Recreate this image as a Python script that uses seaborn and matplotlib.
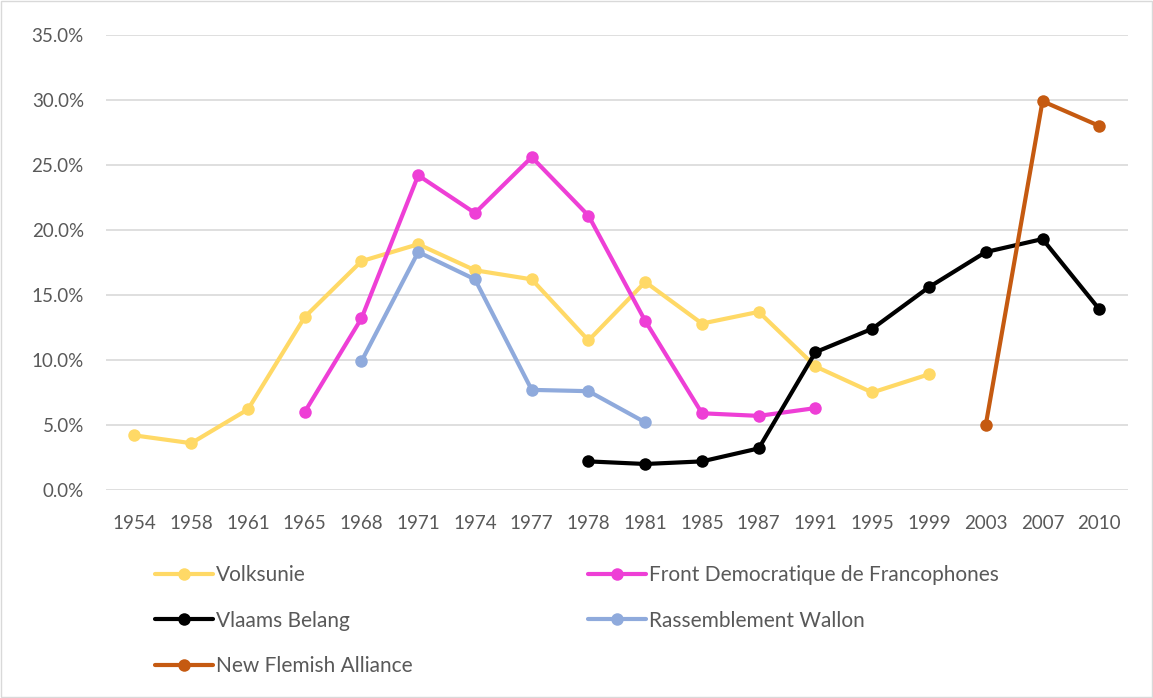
import pandas as pd
import matplotlib.pyplot as plt
import seaborn as sns
from matplotlib.patches import Rectangle
from matplotlib.ticker import FuncFormatter

# --- data ---
years = ['1954', '1958', '1961', '1965', '1968', '1971', '1974', '1977', '1978',
         '1981', '1985', '1987', '1991', '1995', '1999', '2003', '2007', '2010']

volksunie = [4.2, 3.6, 6.2, 13.3, 17.6, 18.9, 16.9, 16.2, 11.5,
             16.0, 12.8, 13.7, 9.5, 7.5, 8.9, None, None, None]
fdf = [None, None, None, 6.0, 13.2, 24.2, 21.3, 25.6, 21.1,
       13.0, 5.9, 5.7, 6.3, None, None, None, None, None]
vlaams_belang = [None, None, None, None, None, None, None, None, 2.2,
                 2.0, 2.2, 3.2, 10.6, 12.4, 15.6, 18.3, 19.3, 13.9]
rass_wallon = [None, None, None, None, 9.9, 18.3, 16.2, 7.7, 7.6,
               5.2, None, None, None, None, None, None, None, None]
nva = [None, None, None, None, None, None, None, None, None,
       None, None, None, None, None, None, 5.0, 29.9, 28.0]

series = {
    'Volksunie': volksunie,
    'Front Democratique de Francophones': fdf,
    'Vlaams Belang': vlaams_belang,
    'Rassemblement Wallon': rass_wallon,
    'New Flemish Alliance': nva,
}
colors = {
    'Volksunie': '#FFD966',
    'Front Democratique de Francophones': '#EE3FD6',
    'Vlaams Belang': '#000000',
    'Rassemblement Wallon': '#8FAADC',
    'New Flemish Alliance': '#C55A11',
}

sns.set_style('white')
plt.rcParams['font.family'] = ['Lato', 'DejaVu Sans']

fig = plt.figure(figsize=(11.53, 6.98), dpi=100)
ax = fig.add_axes([0.092, 0.298, 0.886, 0.652])

handles = {}
for name, vals in series.items():
    df = pd.DataFrame({'pos': range(len(years)), 'share': vals}).dropna()
    sns.lineplot(data=df, x='pos', y='share', ax=ax, color=colors[name],
                 linewidth=3, marker='o', markersize=9, markeredgewidth=0)
    handles[name] = ax.lines[-1]

ax.set_xlim(-0.5, len(years) - 0.5)
ax.set_ylim(0, 35)
ax.set_yticks(range(0, 36, 5))
ax.yaxis.set_major_formatter(FuncFormatter(lambda v, p: f'{v:.1f}%'))
ax.set_xticks(range(len(years)))
ax.set_xticklabels(years)
ax.set_xlabel('')
ax.set_ylabel('')
ax.tick_params(axis='both', length=0, labelsize=13.5, labelcolor='#595959')
ax.tick_params(axis='x', pad=18)
ax.tick_params(axis='y', pad=16)
ax.grid(axis='y', color='#D9D9D9', linewidth=1.2)
ax.set_axisbelow(True)
for s in ax.spines.values():
    s.set_visible(False)

# legend order in columns: left column first, then right
order = ['Volksunie', 'Vlaams Belang', 'New Flemish Alliance',
         'Front Democratique de Francophones', 'Rassemblement Wallon']
leg = fig.legend([handles[n] for n in order], order, ncol=2, frameon=False,
                 loc='upper left', bbox_to_anchor=(0.127, 0.202),
                 fontsize=15, labelcolor='#595959', handlelength=2.8,
                 handletextpad=0.15, columnspacing=8.4, labelspacing=1.22,
                 borderaxespad=0)

fig.add_artist(Rectangle((0.001, 0.001), 0.998, 0.997, transform=fig.transFigure,
                         fill=False, edgecolor='#D9D9D9', linewidth=1))

plt.savefig('out.png', dpi=100)
